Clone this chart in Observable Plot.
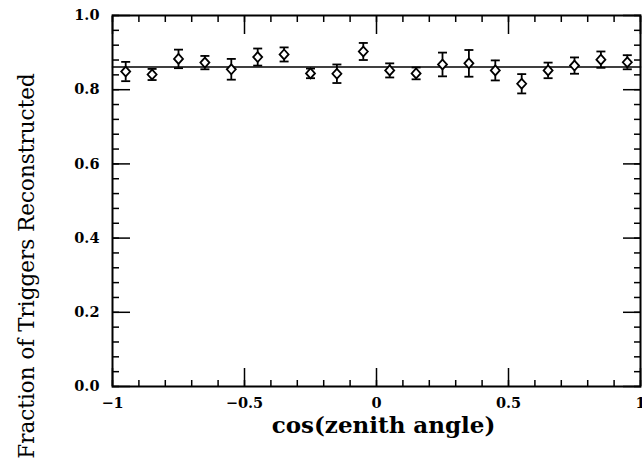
<!DOCTYPE html>
<html>
<head>
<meta charset="utf-8">
<script src="https://cdn.jsdelivr.net/npm/d3@7"></script>
<script src="https://cdn.jsdelivr.net/npm/@observablehq/plot@0.6"></script>
<style>
  html, body { margin: 0; padding: 0; background: #fff; }
  #chart { width: 642px; height: 461px; overflow: hidden; }
</style>
</head>
<body>
<div id="chart"></div>
<script>
// Bin centres in cos(zenith angle)
const cosZenith = [-0.95, -0.85, -0.75, -0.65, -0.55, -0.45, -0.35, -0.25, -0.15, -0.05,
                    0.05,  0.15,  0.25,  0.35,  0.45,  0.55,  0.65,  0.75,  0.85,  0.95];
// Fraction of triggers reconstructed
const fraction = [0.849, 0.841, 0.883, 0.873, 0.855, 0.888, 0.895, 0.844, 0.843, 0.903,
                  0.852, 0.844, 0.868, 0.871, 0.852, 0.816, 0.852, 0.865, 0.881, 0.874];
// Symmetric error
const errors = [0.026, 0.015, 0.025, 0.018, 0.028, 0.023, 0.019, 0.013, 0.025, 0.023,
                0.019, 0.016, 0.032, 0.036, 0.027, 0.026, 0.021, 0.022, 0.022, 0.019];
// Fitted flat line
const fitX = [-1, 1];
const fitY = [0.861, 0.861];

const xMajor = [-1, -0.5, 0, 0.5, 1];
const xMajorLabels = ["\u22121", "\u22120.5", "0", "0.5", "1"];
const xMinor = d3.range(-10, 11).map(i => i / 10);
const yMajor = [0, 0.2, 0.4, 0.6, 0.8, 1.0];
const yMinor = d3.range(0, 26).map(i => i * 0.04);

const xTitle = "cos(zenith angle)";
const yTitle = "Fraction of Triggers Reconstructed";

const points = cosZenith.map((x, i) => ({x, y: fraction[i], lo: fraction[i] - errors[i], hi: fraction[i] + errors[i]}));
const fit = fitX.map((x, i) => ({x, y: fitY[i]}));

const cap = { draw(ctx, size) { const r = Math.sqrt(size / Math.PI); ctx.moveTo(-r, 0); ctx.lineTo(r, 0); } };
const diamond = { draw(ctx, size) { const r = Math.sqrt(size / Math.PI); ctx.moveTo(0, -r * 1.1); ctx.lineTo(r, 0); ctx.lineTo(0, r * 1.1); ctx.lineTo(-r, 0); ctx.closePath(); } };

const serif = "'DejaVu Serif', serif";
const tickFont = {fontFamily: serif, fontWeight: "bold", fontSize: 14.5};
const tk = {text: null, label: null, strokeWidth: 1.5};

const chart = Plot.plot({
  width: 642,
  height: 461,
  marginLeft: 112,
  marginRight: 2,
  marginTop: 15,
  marginBottom: 75,
  style: {fontFamily: serif, background: "#fff", color: "#000", overflow: "visible"},
  x: {domain: [-1, 1]},
  y: {domain: [0, 1]},
  marks: [
    // inward ticks
    Plot.axisX(xMinor, {anchor: "bottom", tickSize: -6, ...tk}),
    Plot.axisX(xMinor, {anchor: "top", tickSize: -6, ...tk}),
    Plot.axisX(xMajor, {anchor: "bottom", tickSize: -18, ...tk}),
    Plot.axisX(xMajor, {anchor: "top", tickSize: -18, ...tk}),
    Plot.axisY(yMinor, {anchor: "left", tickSize: -7, ...tk}),
    Plot.axisY(yMinor, {anchor: "right", tickSize: -7, ...tk}),
    Plot.axisY(yMajor, {anchor: "left", tickSize: -18, ...tk}),
    Plot.axisY(yMajor, {anchor: "right", tickSize: -18, ...tk}),
    // tick labels
    Plot.axisX(xMajor, {anchor: "bottom", tickSize: 0, tickPadding: 11, label: null,
      tickFormat: (d, i) => xMajorLabels[i], ...tickFont}),
    Plot.axisY(yMajor, {anchor: "left", tickSize: 0, tickPadding: 13, label: null,
      tickFormat: d3.format(".1f"), ...tickFont}),
    Plot.frame({stroke: "#000", strokeWidth: 2}),
    // fit
    Plot.line(fit, {x: "x", y: "y", stroke: "#000", strokeWidth: 1.6}),
    // error bars
    Plot.ruleX(points, {x: "x", y1: "lo", y2: "hi", stroke: "#000", strokeWidth: 1.8}),
    Plot.dot(points, {x: "x", y: "lo", symbol: cap, r: 4.5, stroke: "#000", strokeWidth: 1.8}),
    Plot.dot(points, {x: "x", y: "hi", symbol: cap, r: 4.5, stroke: "#000", strokeWidth: 1.8}),
    // markers
    Plot.dot(points, {x: "x", y: "y", symbol: diamond, r: 4.5, stroke: "#000", fill: "#fff", strokeWidth: 1.8}),
    // titles
    Plot.text([xTitle], {frameAnchor: "bottom", dx: 7, dy: 39, text: d => d, textAnchor: "middle",
      fontFamily: serif, fontWeight: "bold", fontSize: 23, lineAnchor: "middle"}),
    Plot.text([yTitle], {frameAnchor: "left", dx: -85, dy: 65, rotate: -90, text: d => d, textAnchor: "middle",
      fontFamily: serif, fontSize: 21.5, lineAnchor: "middle"})
  ]
});
document.getElementById("chart").appendChild(chart);
</script>
</body>
</html>
